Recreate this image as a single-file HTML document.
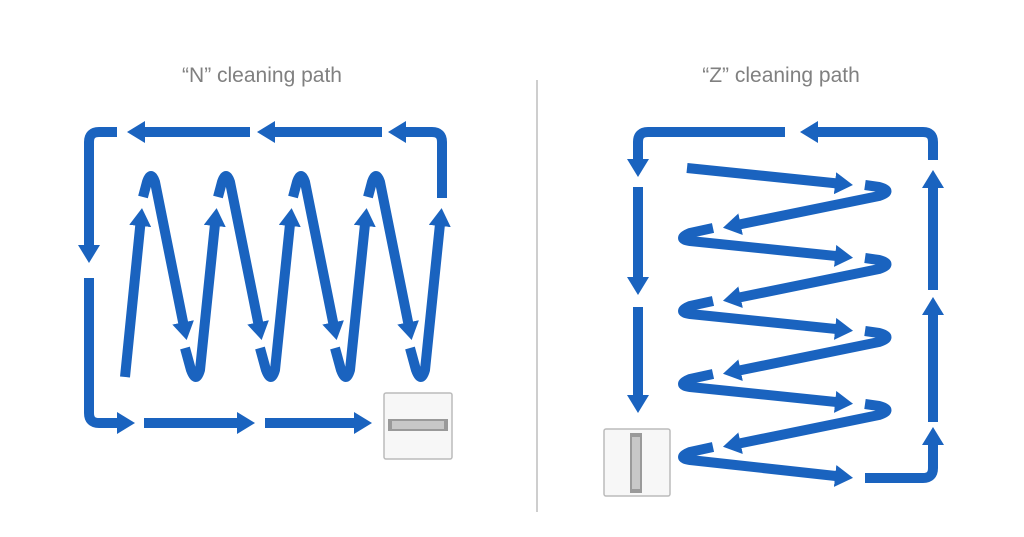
<!DOCTYPE html>
<html><head><meta charset="utf-8"><style>
html,body{margin:0;padding:0;background:#fff;}
svg{display:block;}
</style></head><body>
<svg width="1024" height="537" viewBox="0 0 1024 537" xmlns="http://www.w3.org/2000/svg">
<defs>
<marker id="a" viewBox="0 0 18 22" refX="4" refY="11" markerWidth="18" markerHeight="22" markerUnits="userSpaceOnUse" orient="auto">
<path d="M0,0 L18,11 L0,22 z" fill="#1a63bf"/>
</marker>
</defs>
<rect width="1024" height="537" fill="#fff"/>
<text x="262" y="82" text-anchor="middle" font-family="Liberation Sans, sans-serif" font-size="21" fill="#808080">“N” cleaning path</text>
<text x="781" y="82" text-anchor="middle" font-family="Liberation Sans, sans-serif" font-size="21" fill="#808080">“Z” cleaning path</text>
<line x1="537" y1="80" x2="537" y2="512" stroke="#bdbdbd" stroke-width="1.5"/>
<g fill="none" stroke="#1a63bf" stroke-width="10" stroke-linejoin="round" stroke-linecap="butt">
<!-- N frame -->
<path d="M117,132 L99,132 Q89,132 89,142 L89,249" marker-end="url(#a)"/>
<path d="M89,278 L89,413 Q89,423 99,423 L121,423" marker-end="url(#a)"/>
<path d="M144,423 L241,423" marker-end="url(#a)"/>
<path d="M265,423 L358,423" marker-end="url(#a)"/>
<path d="M442,198 L442,142 Q442,132 432,132 L402,132" marker-end="url(#a)"/>
<path d="M382,132 L271,132" marker-end="url(#a)"/>
<path d="M250,132 L141,132" marker-end="url(#a)"/>
<!-- N zigzag -->
<path d="M125,377 L140.6,222" marker-end="url(#a)"/>
<path d="M143,197 L147,182 Q151,170 155,182 L183.9,326.3" marker-end="url(#a)"/>
<path d="M185,348 L191,370 Q196,384 200,370 L215.2,222" marker-end="url(#a)"/>
<path d="M218,197 L222,182 Q226,170 230,182 L258.9,326.3" marker-end="url(#a)"/>
<path d="M260,348 L266,370 Q271,384 275,370 L290.2,222" marker-end="url(#a)"/>
<path d="M293,197 L297,182 Q301,170 305,182 L333.9,326.3" marker-end="url(#a)"/>
<path d="M335,348 L341,370 Q346,384 350,370 L365.2,222" marker-end="url(#a)"/>
<path d="M368,197 L372,182 Q376,170 380,182 L408.9,326.3" marker-end="url(#a)"/>
<path d="M410,348 L416,370 Q421,384 425,370 L440.2,222" marker-end="url(#a)"/>
<!-- Z frame -->
<path d="M785,132 L648,132 Q638,132 638,142 L638,163" marker-end="url(#a)"/>
<path d="M638,187 L638,281" marker-end="url(#a)"/>
<path d="M638,307 L638,399" marker-end="url(#a)"/>
<path d="M933,160 L933,142 Q933,132 923,132 L814,132" marker-end="url(#a)"/>
<path d="M933,290 L933,184" marker-end="url(#a)"/>
<path d="M933,422 L933,311" marker-end="url(#a)"/>
<path d="M865,478 L923,478 Q933,478 933,468 L933,441" marker-end="url(#a)"/>
<!-- Z zigzag -->
<path d="M687,168 L839,183.6" marker-end="url(#a)"/>
<path d="M865,185 L879,187 Q894,191 879,196 L736.7,225" marker-end="url(#a)"/>
<path d="M713,228 L690,233 Q676,239 690,241 L839.1,256.3" marker-end="url(#a)"/>
<path d="M865,258 L879,260 Q894,264 879,269 L736.7,298" marker-end="url(#a)"/>
<path d="M713,301 L690,306 Q676,312 690,314 L839.1,329.3" marker-end="url(#a)"/>
<path d="M865,331 L879,333 Q894,337 879,342 L736.7,371" marker-end="url(#a)"/>
<path d="M713,374 L690,379 Q676,385 690,387 L839.1,402.3" marker-end="url(#a)"/>
<path d="M865,404 L879,406 Q894,410 879,415 L736.7,444" marker-end="url(#a)"/>
<path d="M713,447 L690,452 Q676,458 690,460 L839.1,476.4" marker-end="url(#a)"/>
</g>
<!-- robots -->
<g>
<rect x="384" y="393" width="68" height="66" rx="2" fill="#f7f7f7" stroke="#bbb" stroke-width="1.5"/>
<rect x="388" y="419" width="60" height="12" fill="#9a9a9a"/>
<rect x="392" y="421" width="52" height="8" fill="#c8c8c8"/>
<rect x="604" y="429" width="66" height="67" rx="2" fill="#f7f7f7" stroke="#bbb" stroke-width="1.5"/>
<rect x="630" y="433" width="12" height="60" fill="#9a9a9a"/>
<rect x="632" y="437" width="8" height="52" fill="#c8c8c8"/>
</g>
</svg>
</body></html>
